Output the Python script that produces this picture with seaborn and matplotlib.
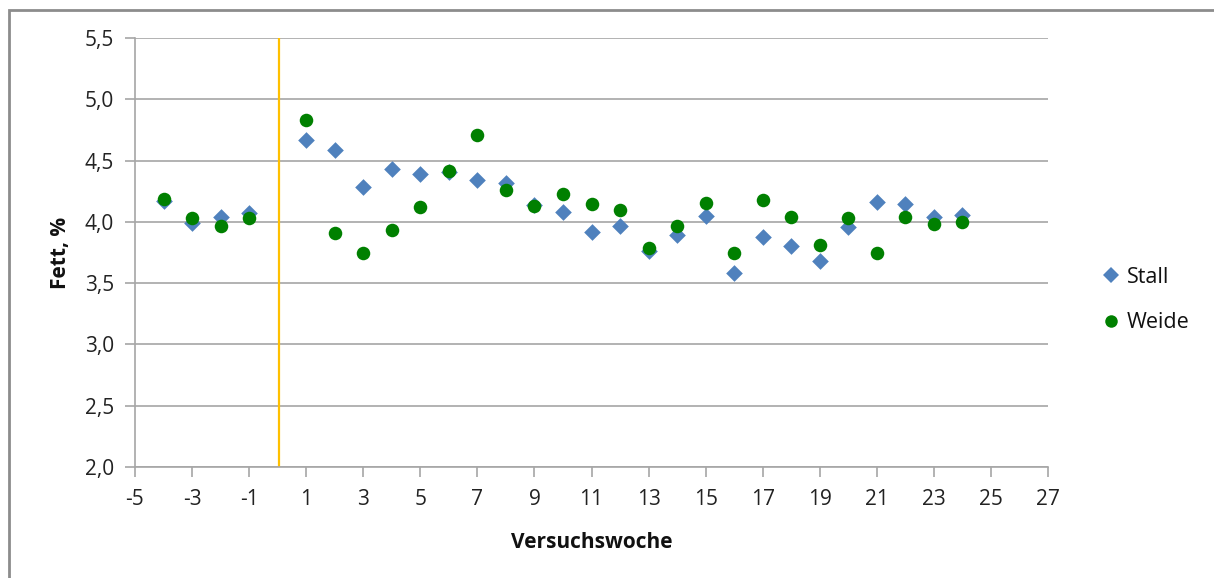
import numpy as np
import pandas as pd
import matplotlib
matplotlib.use("Agg")
import matplotlib.pyplot as plt
from matplotlib.lines import Line2D
from matplotlib.patches import Rectangle
from matplotlib.ticker import FuncFormatter
import seaborn as sns

weeks = [-4, -3, -2, -1, 1, 2, 3, 4, 5, 6, 7, 8, 9, 10, 11, 12, 13, 14, 15, 16, 17, 18, 19, 20, 21, 22, 23, 24]
stall = [4.17, 3.99, 4.04, 4.07, 4.67, 4.585, 4.285, 4.43, 4.39, 4.41, 4.345, 4.315, 4.135, 4.08,
         3.915, 3.965, 3.76, 3.89, 4.045, 3.58, 3.88, 3.80, 3.68, 3.96, 4.16, 4.145, 4.04, 4.055]
weide = [4.185, 4.035, 3.97, 4.03, 4.835, 3.91, 3.75, 3.93, 4.125, 4.415, 4.705, 4.26, 4.13, 4.225,
         4.145, 4.095, 3.79, 3.97, 4.15, 3.75, 4.175, 4.04, 3.81, 4.03, 3.75, 4.04, 3.98, 4.00]
series_names = ["Stall", "Weide"]
x_ticks = list(range(-5, 28, 2))
y_ticks = [2.0, 2.5, 3.0, 3.5, 4.0, 4.5, 5.0, 5.5]

df = pd.DataFrame({
    "Woche": weeks * 2,
    "Fett": stall + weide,
    "Gruppe": ["Stall"] * len(weeks) + ["Weide"] * len(weeks),
})

sns.set_theme(style="white")
plt.rcParams["font.family"] = ["Open Sans", "DejaVu Sans"]

fig = plt.figure(figsize=(12.14, 5.78), dpi=100)
ax = fig.add_axes([135 / 1214, 1 - 467 / 578, (1048 - 135) / 1214, (467 - 38) / 578])

colors = {"Stall": "#4F81BD", "Weide": "#008000"}
markers = {"Stall": "D", "Weide": "o"}
sizes = {"Stall": 72, "Weide": 95}

for name in series_names:
    sub = df[df["Gruppe"] == name]
    sns.scatterplot(data=sub, x="Woche", y="Fett", ax=ax, color=colors[name],
                    marker=markers[name], s=sizes[name], linewidth=0, zorder=3, legend=False)

ax.axvline(0.05, color="#FFC000", lw=1.6, zorder=2)

ax.set_xlim(-5, 27)
ax.set_ylim(2.0, 5.5)
ax.set_xticks(x_ticks)
ax.set_yticks(y_ticks)
ax.yaxis.set_major_formatter(FuncFormatter(lambda v, p: f"{v:.1f}".replace(".", ",")))
ax.xaxis.set_major_formatter(FuncFormatter(lambda v, p: f"{int(v)}"))
ax.grid(axis="y", color="#A6A6A6", lw=1.2, zorder=0)
ax.grid(axis="x", visible=False)
for s in ["top", "right"]:
    ax.spines[s].set_visible(False)
for s in ["left", "bottom"]:
    ax.spines[s].set_color("#A6A6A6")
    ax.spines[s].set_linewidth(1.2)
ax.tick_params(axis="both", which="major", direction="out", length=7, width=1.2,
               color="#A6A6A6", labelsize=15, labelcolor="#222222", left=True, bottom=True)
ax.tick_params(axis="x", pad=9)
ax.tick_params(axis="y", pad=8)

ax.set_xlabel("Versuchswoche", fontsize=15, fontweight="bold", color="#111111", labelpad=16)
ax.set_ylabel("Fett, %", fontsize=15, fontweight="bold", color="#111111", labelpad=10)

handles = [Line2D([], [], ls="none", marker="D", color=colors["Stall"], markersize=8, markeredgewidth=0),
           Line2D([], [], ls="none", marker="o", color=colors["Weide"], markersize=9, markeredgewidth=0)]
leg = fig.legend(handles, series_names, loc="center left", bbox_to_anchor=(1083 / 1214, 1 - 300 / 578),
                 frameon=False, fontsize=15.5, handlelength=0.8, handletextpad=0.35, labelspacing=1.15)
for t in leg.get_texts():
    t.set_color("#111111")

fig.add_artist(Rectangle((9 / 1214, -0.1), 1.2, 1 - 10 / 578 + 0.1, transform=fig.transFigure,
                         fill=False, edgecolor="#8C8C8C", lw=2.0))

fig.savefig("out.png", dpi=100)
